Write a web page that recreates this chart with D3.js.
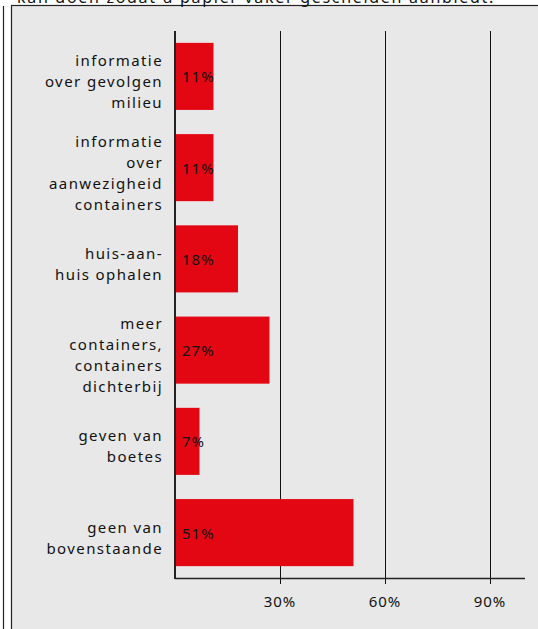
<!DOCTYPE html>
<html>
<head>
<meta charset="utf-8">
<script src="https://cdn.jsdelivr.net/npm/d3@7"></script>
<style>
  html, body { margin: 0; padding: 0; background: #fff; }
  svg { display: block; font-family: "Noto Sans", "DejaVu Sans", sans-serif; }
</style>
</head>
<body>
<svg id="chart" width="538" height="629"></svg>
<script>
// categories (lines of each label) and percentages
var categories = [
    ["informatie", "over gevolgen", "milieu"],
    ["informatie", "over", "aanwezigheid", "containers"],
    ["huis-aan-", "huis ophalen"],
    ["meer", "containers,", "containers", "dichterbij"],
    ["geven van", "boetes"],
    ["geen van", "bovenstaande"]
];
var values = [11, 11, 18, 27, 7, 51];
var tickValues = [30, 60, 90];
var topText = "kan doen zodat u papier vaker gescheiden aanbiedt.";

var svg = d3.select("#chart");

// outer frame line + grey panel
svg.append("line")
    .attr("x1", 3.5).attr("x2", 3.5)
    .attr("y1", 6).attr("y2", 629)
    .attr("stroke", "#222").attr("stroke-width", 1.2);

svg.append("rect")
    .attr("x", 11.5).attr("y", 5.5)
    .attr("width", 540).attr("height", 630)
    .attr("fill", "#e8e8e8")
    .attr("stroke", "#222").attr("stroke-width", 1.2);

// cut-off question text at the very top
svg.append("text")
    .attr("x", 17).attr("y", 3)
    .attr("font-size", "16px")
    .attr("letter-spacing", "1.7px")
    .attr("fill", "#111")
    .text(topText);

var x = d3.scaleLinear().domain([0, 100]).range([175, 525]);
var y = d3.scaleBand()
    .domain(d3.range(categories.length))
    .range([31, 578])
    .paddingInner(0.265)
    .paddingOuter(0.13);

var g = svg.append("g");

// grid lines
g.selectAll("line.grid")
    .data(tickValues)
    .enter()
    .append("line")
    .attr("class", "grid")
    .attr("x1", function(d) { return Math.round(x(d)) + 0.5; })
    .attr("x2", function(d) { return Math.round(x(d)) + 0.5; })
    .attr("y1", 31)
    .attr("y2", 584)
    .attr("stroke", "#111")
    .attr("stroke-width", 1);

// bars
g.selectAll("rect.bar")
    .data(values)
    .enter()
    .append("rect")
    .attr("class", "bar")
    .attr("x", x(0))
    .attr("y", function(d, i) { return y(i); })
    .attr("width", function(d) { return x(d) - x(0); })
    .attr("height", y.bandwidth())
    .attr("fill", "#e30613");

// value labels
g.selectAll("text.val")
    .data(values)
    .enter()
    .append("text")
    .attr("class", "val")
    .attr("x", x(0) + 7)
    .attr("y", function(d, i) { return y(i) + y.bandwidth() / 2 + 6; })
    .attr("font-size", "15px")
    .attr("letter-spacing", "1px")
    .attr("fill", "#111")
    .text(function(d) { return d + "%"; });

// category labels
categories.forEach(function(lines, i) {
    var c = y(i) + y.bandwidth() / 2 + 10.5;
    var t = g.append("text")
        .attr("text-anchor", "end")
        .attr("font-size", "15px")
        .attr("letter-spacing", "1.4px")
        .attr("fill", "#111");
    lines.forEach(function(l, j) {
        t.append("tspan")
            .attr("x", 163)
            .attr("y", c + (j - (lines.length - 1) / 2) * 21)
            .text(l);
    });
});

// axes lines
g.append("line")
    .attr("x1", x(0)).attr("x2", x(0))
    .attr("y1", 31).attr("y2", 579)
    .attr("stroke", "#222").attr("stroke-width", 2);

g.append("line")
    .attr("x1", x(0)).attr("x2", x(100))
    .attr("y1", 578.5).attr("y2", 578.5)
    .attr("stroke", "#222").attr("stroke-width", 1.5);

// tick labels
g.selectAll("text.tick")
    .data(tickValues)
    .enter()
    .append("text")
    .attr("class", "tick")
    .attr("x", function(d) { return x(d); })
    .attr("y", 607)
    .attr("text-anchor", "middle")
    .attr("font-size", "15px")
    .attr("letter-spacing", "1px")
    .attr("fill", "#111")
    .text(function(d) { return d + "%"; });
</script>
</body>
</html>
